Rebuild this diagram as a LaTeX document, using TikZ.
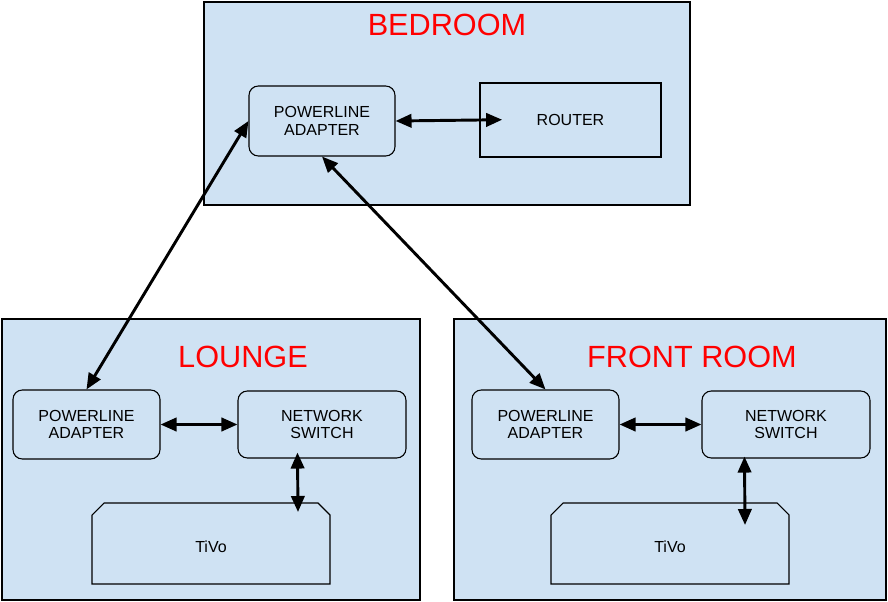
\documentclass[tikz,border=0pt]{standalone}
\usepackage{fontspec}
\setmainfont{Liberation Sans}
\usetikzlibrary{arrows.meta}
\definecolor{roomblue}{RGB}{207,226,243}
\tikzset{
  room/.style={draw=black,fill=roomblue,line width=0.8pt},
  dev/.style={draw=black,line width=0.8pt,align=center,font=\fontsize{12}{13}\selectfont},
  title/.style={text=red,font=\fontsize{23}{26}\selectfont},
  link/.style={line width=2.2pt,{Triangle[length=12pt,width=10pt]}-{Triangle[length=12pt,width=10pt]}}
}
\begin{document}
\begin{tikzpicture}[x=0.75pt,y=0.75pt,yscale=-1,xscale=1]
\useasboundingbox (0,0) rectangle (888,602);

% rooms
\draw[room] (204,2) rectangle (690,205);
\draw[room] (2,319) rectangle (420,600);
\draw[room] (454,319) rectangle (886,600);
\node[title] (tbed) at (447,25) {BEDROOM};
\node[title] (tlounge) at (243,357) {LOUNGE};
\node[title] (tfront) at (692,357) {FRONT ROOM};

% bedroom
\node[dev,rounded corners=7pt,minimum width=109.5pt,minimum height=52.5pt] (bpa) at (322,121) {POWERLINE\\ADAPTER};
\node[dev,minimum width=135.75pt,minimum height=55.5pt] (router) at (570.5,120) {ROUTER};

% lounge
\node[dev,rounded corners=7pt,minimum width=110.25pt,minimum height=51.75pt] (lpa) at (86.5,424.5) {POWERLINE\\ADAPTER};
\node[dev,rounded corners=7pt,minimum width=126pt,minimum height=50.25pt] (lsw) at (322,424.5) {NETWORK\\SWITCH};
\draw[line width=0.8pt] (92,584) -- (92,515) -- (104,503) -- (318,503) -- (330,515) -- (330,584) -- cycle;
\node[dev,draw=none] (ltivo) at (211,547) {TiVo};

% front room
\node[dev,rounded corners=7pt,minimum width=110.25pt,minimum height=51.75pt] (fpa) at (545.5,424.5) {POWERLINE\\ADAPTER};
\node[dev,rounded corners=7pt,minimum width=126pt,minimum height=50.25pt] (fsw) at (786,424.5) {NETWORK\\SWITCH};
\draw[line width=0.8pt] (551,584) -- (551,515) -- (563,503) -- (777,503) -- (789,515) -- (789,584) -- cycle;
\node[dev,draw=none] (ftivo) at (670,547) {TiVo};
\coordinate (ltv) at (298,512);
\coordinate (ftv) at (745,525);

% links
\draw[link,shorten >=-17pt] (bpa.east) -- (router.west);
\draw[link] (bpa.west) -- (lpa.north);
\draw[link] (bpa.south) -- (fpa.north);
\draw[link] (lpa.east) -- (lsw.west);
\draw[link] (lsw.south west) ++(60,-6) coordinate (lsws) (lsws) -- (ltv);
\draw[link] (fpa.east) -- (fsw.west);
\draw[link] (fsw.south west) ++(43,-2) coordinate (fsws) (fsws) -- (ftv);
\end{tikzpicture}
\end{document}
